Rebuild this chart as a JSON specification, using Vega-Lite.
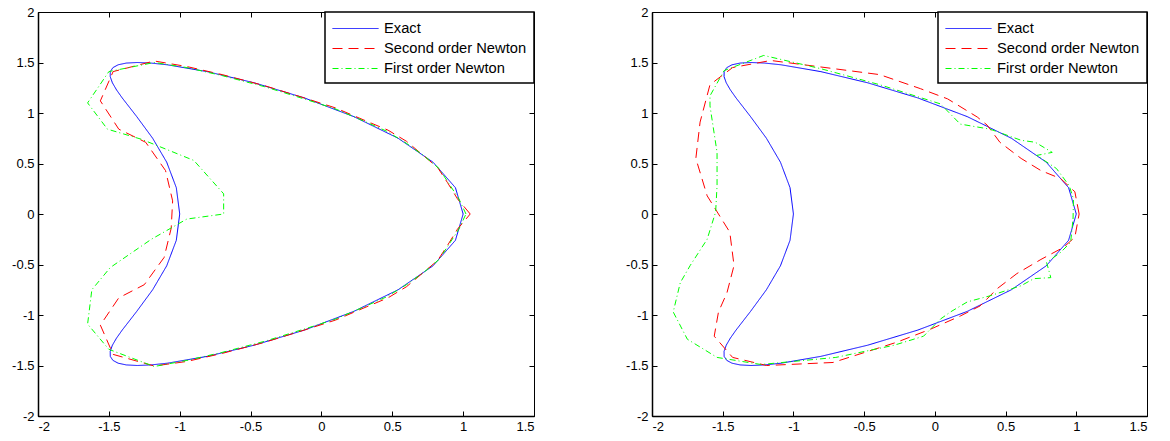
{
  "$schema": "https://vega.github.io/schema/vega-lite/v6.json",
  "background": "white",
  "padding": {"left": 11, "top": 5, "right": 5, "bottom": 5},
  "config": {
    "view": {"stroke": "black", "strokeWidth": 1},
    "concat": {"spacing": 89},
    "axis": {"grid": false, "domainColor": "black", "domainWidth": 1.5, "tickColor": "black", "labelColor": "black", "labelFont": "Liberation Sans", "labelFontSize": 13, "tickSize": -5, "labelPadding": 9, "title": null},
    "legend": {
      "orient": "top-right", "offset": 0, "title": null, "strokeColor": "black", "strokeWidth": 1.5, "fillColor": "white", "padding": 7,
      "symbolType": "M-1,0H4.11", "symbolSize": 324, "symbolStrokeWidth": 1, "symbolFillColor": "transparent",
      "labelFont": "Liberation Sans", "labelFontSize": 14.7, "labelColor": "black", "labelOffset": 33, "rowPadding": 3,
      "encode": {"symbols": {"stroke": {"condition": [{"test": "datum.value === 'Exact'", "value": "#0000ff"}, {"test": "datum.value === 'Second order Newton'", "value": "#ff0000"}], "value": "#00ff00"}}}
    }
  },
  "resolve": {"legend": {"color": "independent", "strokeDash": "independent"}, "scale": {"color": "independent", "strokeDash": "independent"}},
  "datasets": {
    "L": [
      {"s":"Exact","i":0,"x":1.0,"y":0},{"s":"Exact","i":1,"x":0.9456,"y":0.2605},{"s":"Exact","i":2,"x":0.7876,"y":0.513},{"s":"Exact","i":3,"x":0.541,"y":0.75},{"s":"Exact","i":4,"x":0.2289,"y":0.9642},{"s":"Exact","i":5,"x":-0.1201,"y":1.1491},{"s":"Exact","i":6,"x":-0.475,"y":1.299},{"s":"Exact","i":7,"x":-0.8059,"y":1.4095},{"s":"Exact","i":8,"x":-1.0872,"y":1.4772},{"s":"Exact","i":9,"x":-1.203,"y":1.4943},{"s":"Exact","i":10,"x":-1.3,"y":1.5},{"s":"Exact","i":11,"x":-1.3773,"y":1.4943},{"s":"Exact","i":12,"x":-1.4345,"y":1.4772},{"s":"Exact","i":13,"x":-1.4717,"y":1.4489},{"s":"Exact","i":14,"x":-1.49,"y":1.4095},{"s":"Exact","i":15,"x":-1.4904,"y":1.3595},{"s":"Exact","i":16,"x":-1.475,"y":1.299},{"s":"Exact","i":17,"x":-1.4459,"y":1.2287},{"s":"Exact","i":18,"x":-1.4057,"y":1.1491},{"s":"Exact","i":19,"x":-1.3032,"y":0.9642},{"s":"Exact","i":20,"x":-1.191,"y":0.75},{"s":"Exact","i":21,"x":-1.0918,"y":0.513},{"s":"Exact","i":22,"x":-1.024,"y":0.2605},{"s":"Exact","i":23,"x":-1.0,"y":0},{"s":"Exact","i":24,"x":-1.024,"y":-0.2605},{"s":"Exact","i":25,"x":-1.0918,"y":-0.513},{"s":"Exact","i":26,"x":-1.191,"y":-0.75},{"s":"Exact","i":27,"x":-1.3032,"y":-0.9642},{"s":"Exact","i":28,"x":-1.4057,"y":-1.1491},{"s":"Exact","i":29,"x":-1.4459,"y":-1.2287},{"s":"Exact","i":30,"x":-1.475,"y":-1.299},{"s":"Exact","i":31,"x":-1.4904,"y":-1.3595},{"s":"Exact","i":32,"x":-1.49,"y":-1.4095},{"s":"Exact","i":33,"x":-1.4717,"y":-1.4489},{"s":"Exact","i":34,"x":-1.4345,"y":-1.4772},{"s":"Exact","i":35,"x":-1.3773,"y":-1.4943},{"s":"Exact","i":36,"x":-1.3,"y":-1.5},{"s":"Exact","i":37,"x":-1.203,"y":-1.4943},{"s":"Exact","i":38,"x":-1.0872,"y":-1.4772},{"s":"Exact","i":39,"x":-0.8059,"y":-1.4095},{"s":"Exact","i":40,"x":-0.475,"y":-1.299},{"s":"Exact","i":41,"x":-0.1201,"y":-1.1491},{"s":"Exact","i":42,"x":0.2289,"y":-0.9642},{"s":"Exact","i":43,"x":0.541,"y":-0.75},{"s":"Exact","i":44,"x":0.7876,"y":-0.513},{"s":"Exact","i":45,"x":0.9456,"y":-0.2605},{"s":"Exact","i":46,"x":1.0,"y":0},
      {"s":"Second order Newton","i":0,"x":1.05,"y":0},{"s":"Second order Newton","i":1,"x":0.96,"y":0.15},{"s":"Second order Newton","i":2,"x":0.89,"y":0.31},{"s":"Second order Newton","i":3,"x":0.82,"y":0.46},{"s":"Second order Newton","i":4,"x":0.71,"y":0.59},{"s":"Second order Newton","i":5,"x":0.6,"y":0.72},{"s":"Second order Newton","i":6,"x":0.47,"y":0.83},{"s":"Second order Newton","i":7,"x":0.3,"y":0.93},{"s":"Second order Newton","i":8,"x":0.1,"y":1.05},{"s":"Second order Newton","i":9,"x":-0.1,"y":1.14},{"s":"Second order Newton","i":10,"x":-0.4,"y":1.27},{"s":"Second order Newton","i":11,"x":-0.7,"y":1.38},{"s":"Second order Newton","i":12,"x":-0.95,"y":1.46},{"s":"Second order Newton","i":13,"x":-1.18,"y":1.515},{"s":"Second order Newton","i":14,"x":-1.47,"y":1.41},{"s":"Second order Newton","i":15,"x":-1.56,"y":1.12},{"s":"Second order Newton","i":16,"x":-1.43,"y":0.84},{"s":"Second order Newton","i":17,"x":-1.24,"y":0.71},{"s":"Second order Newton","i":18,"x":-1.1,"y":0.43},{"s":"Second order Newton","i":19,"x":-1.05,"y":0.13},{"s":"Second order Newton","i":20,"x":-1.06,"y":-0.14},{"s":"Second order Newton","i":21,"x":-1.11,"y":-0.43},{"s":"Second order Newton","i":22,"x":-1.25,"y":-0.7},{"s":"Second order Newton","i":23,"x":-1.43,"y":-0.83},{"s":"Second order Newton","i":24,"x":-1.56,"y":-1.1},{"s":"Second order Newton","i":25,"x":-1.47,"y":-1.39},{"s":"Second order Newton","i":26,"x":-1.18,"y":-1.505},{"s":"Second order Newton","i":27,"x":-0.95,"y":-1.46},{"s":"Second order Newton","i":28,"x":-0.7,"y":-1.38},{"s":"Second order Newton","i":29,"x":-0.4,"y":-1.27},{"s":"Second order Newton","i":30,"x":-0.1,"y":-1.14},{"s":"Second order Newton","i":31,"x":0.1,"y":-1.05},{"s":"Second order Newton","i":32,"x":0.3,"y":-0.93},{"s":"Second order Newton","i":33,"x":0.47,"y":-0.83},{"s":"Second order Newton","i":34,"x":0.6,"y":-0.72},{"s":"Second order Newton","i":35,"x":0.71,"y":-0.59},{"s":"Second order Newton","i":36,"x":0.82,"y":-0.46},{"s":"Second order Newton","i":37,"x":0.89,"y":-0.31},{"s":"Second order Newton","i":38,"x":0.96,"y":-0.15},{"s":"Second order Newton","i":39,"x":1.05,"y":0},
      {"s":"First order Newton","i":0,"x":1.02,"y":0},{"s":"First order Newton","i":1,"x":0.97,"y":0.15},{"s":"First order Newton","i":2,"x":0.9,"y":0.3},{"s":"First order Newton","i":3,"x":0.83,"y":0.45},{"s":"First order Newton","i":4,"x":0.72,"y":0.58},{"s":"First order Newton","i":5,"x":0.6,"y":0.7},{"s":"First order Newton","i":6,"x":0.46,"y":0.82},{"s":"First order Newton","i":7,"x":0.3,"y":0.92},{"s":"First order Newton","i":8,"x":0.1,"y":1.04},{"s":"First order Newton","i":9,"x":-0.1,"y":1.13},{"s":"First order Newton","i":10,"x":-0.4,"y":1.26},{"s":"First order Newton","i":11,"x":-0.7,"y":1.37},{"s":"First order Newton","i":12,"x":-0.95,"y":1.45},{"s":"First order Newton","i":13,"x":-1.18,"y":1.5},{"s":"First order Newton","i":14,"x":-1.5,"y":1.41},{"s":"First order Newton","i":15,"x":-1.65,"y":1.1},{"s":"First order Newton","i":16,"x":-1.51,"y":0.84},{"s":"First order Newton","i":17,"x":-1.27,"y":0.74},{"s":"First order Newton","i":18,"x":-0.9,"y":0.53},{"s":"First order Newton","i":19,"x":-0.69,"y":0.2},{"s":"First order Newton","i":20,"x":-0.69,"y":0.0},{"s":"First order Newton","i":21,"x":-0.95,"y":-0.05},{"s":"First order Newton","i":22,"x":-1.2,"y":-0.25},{"s":"First order Newton","i":23,"x":-1.49,"y":-0.53},{"s":"First order Newton","i":24,"x":-1.62,"y":-0.75},{"s":"First order Newton","i":25,"x":-1.65,"y":-1.09},{"s":"First order Newton","i":26,"x":-1.5,"y":-1.34},{"s":"First order Newton","i":27,"x":-1.18,"y":-1.51},{"s":"First order Newton","i":28,"x":-0.95,"y":-1.45},{"s":"First order Newton","i":29,"x":-0.7,"y":-1.37},{"s":"First order Newton","i":30,"x":-0.4,"y":-1.26},{"s":"First order Newton","i":31,"x":-0.1,"y":-1.13},{"s":"First order Newton","i":32,"x":0.1,"y":-1.04},{"s":"First order Newton","i":33,"x":0.3,"y":-0.92},{"s":"First order Newton","i":34,"x":0.46,"y":-0.82},{"s":"First order Newton","i":35,"x":0.6,"y":-0.7},{"s":"First order Newton","i":36,"x":0.72,"y":-0.58},{"s":"First order Newton","i":37,"x":0.83,"y":-0.45},{"s":"First order Newton","i":38,"x":0.9,"y":-0.3},{"s":"First order Newton","i":39,"x":0.97,"y":-0.15},{"s":"First order Newton","i":40,"x":1.02,"y":0}
    ],
    "R": [
      {"s":"Exact","i":0,"x":1.0,"y":0},{"s":"Exact","i":1,"x":0.9456,"y":0.2605},{"s":"Exact","i":2,"x":0.7876,"y":0.513},{"s":"Exact","i":3,"x":0.541,"y":0.75},{"s":"Exact","i":4,"x":0.2289,"y":0.9642},{"s":"Exact","i":5,"x":-0.1201,"y":1.1491},{"s":"Exact","i":6,"x":-0.475,"y":1.299},{"s":"Exact","i":7,"x":-0.8059,"y":1.4095},{"s":"Exact","i":8,"x":-1.0872,"y":1.4772},{"s":"Exact","i":9,"x":-1.203,"y":1.4943},{"s":"Exact","i":10,"x":-1.3,"y":1.5},{"s":"Exact","i":11,"x":-1.3773,"y":1.4943},{"s":"Exact","i":12,"x":-1.4345,"y":1.4772},{"s":"Exact","i":13,"x":-1.4717,"y":1.4489},{"s":"Exact","i":14,"x":-1.49,"y":1.4095},{"s":"Exact","i":15,"x":-1.4904,"y":1.3595},{"s":"Exact","i":16,"x":-1.475,"y":1.299},{"s":"Exact","i":17,"x":-1.4459,"y":1.2287},{"s":"Exact","i":18,"x":-1.4057,"y":1.1491},{"s":"Exact","i":19,"x":-1.3032,"y":0.9642},{"s":"Exact","i":20,"x":-1.191,"y":0.75},{"s":"Exact","i":21,"x":-1.0918,"y":0.513},{"s":"Exact","i":22,"x":-1.024,"y":0.2605},{"s":"Exact","i":23,"x":-1.0,"y":0},{"s":"Exact","i":24,"x":-1.024,"y":-0.2605},{"s":"Exact","i":25,"x":-1.0918,"y":-0.513},{"s":"Exact","i":26,"x":-1.191,"y":-0.75},{"s":"Exact","i":27,"x":-1.3032,"y":-0.9642},{"s":"Exact","i":28,"x":-1.4057,"y":-1.1491},{"s":"Exact","i":29,"x":-1.4459,"y":-1.2287},{"s":"Exact","i":30,"x":-1.475,"y":-1.299},{"s":"Exact","i":31,"x":-1.4904,"y":-1.3595},{"s":"Exact","i":32,"x":-1.49,"y":-1.4095},{"s":"Exact","i":33,"x":-1.4717,"y":-1.4489},{"s":"Exact","i":34,"x":-1.4345,"y":-1.4772},{"s":"Exact","i":35,"x":-1.3773,"y":-1.4943},{"s":"Exact","i":36,"x":-1.3,"y":-1.5},{"s":"Exact","i":37,"x":-1.203,"y":-1.4943},{"s":"Exact","i":38,"x":-1.0872,"y":-1.4772},{"s":"Exact","i":39,"x":-0.8059,"y":-1.4095},{"s":"Exact","i":40,"x":-0.475,"y":-1.299},{"s":"Exact","i":41,"x":-0.1201,"y":-1.1491},{"s":"Exact","i":42,"x":0.2289,"y":-0.9642},{"s":"Exact","i":43,"x":0.541,"y":-0.75},{"s":"Exact","i":44,"x":0.7876,"y":-0.513},{"s":"Exact","i":45,"x":0.9456,"y":-0.2605},{"s":"Exact","i":46,"x":1.0,"y":0},
      {"s":"Second order Newton","i":0,"x":1.02,"y":0},{"s":"Second order Newton","i":1,"x":0.99,"y":0.22},{"s":"Second order Newton","i":2,"x":0.89,"y":0.35},{"s":"Second order Newton","i":3,"x":0.75,"y":0.43},{"s":"Second order Newton","i":4,"x":0.61,"y":0.55},{"s":"Second order Newton","i":5,"x":0.46,"y":0.71},{"s":"Second order Newton","i":6,"x":0.37,"y":0.88},{"s":"Second order Newton","i":7,"x":0.3,"y":0.96},{"s":"Second order Newton","i":8,"x":0.09,"y":1.14},{"s":"Second order Newton","i":9,"x":-0.1,"y":1.24},{"s":"Second order Newton","i":10,"x":-0.39,"y":1.38},{"s":"Second order Newton","i":11,"x":-0.72,"y":1.44},{"s":"Second order Newton","i":12,"x":-1.16,"y":1.52},{"s":"Second order Newton","i":13,"x":-1.43,"y":1.45},{"s":"Second order Newton","i":14,"x":-1.59,"y":1.28},{"s":"Second order Newton","i":15,"x":-1.66,"y":0.91},{"s":"Second order Newton","i":16,"x":-1.69,"y":0.55},{"s":"Second order Newton","i":17,"x":-1.61,"y":0.18},{"s":"Second order Newton","i":18,"x":-1.45,"y":-0.18},{"s":"Second order Newton","i":19,"x":-1.42,"y":-0.51},{"s":"Second order Newton","i":20,"x":-1.47,"y":-0.78},{"s":"Second order Newton","i":21,"x":-1.53,"y":-0.97},{"s":"Second order Newton","i":22,"x":-1.56,"y":-1.21},{"s":"Second order Newton","i":23,"x":-1.43,"y":-1.42},{"s":"Second order Newton","i":24,"x":-1.19,"y":-1.5},{"s":"Second order Newton","i":25,"x":-0.72,"y":-1.47},{"s":"Second order Newton","i":26,"x":-0.27,"y":-1.27},{"s":"Second order Newton","i":27,"x":-0.03,"y":-1.14},{"s":"Second order Newton","i":28,"x":0.18,"y":-1.01},{"s":"Second order Newton","i":29,"x":0.32,"y":-0.91},{"s":"Second order Newton","i":30,"x":0.44,"y":-0.74},{"s":"Second order Newton","i":31,"x":0.58,"y":-0.59},{"s":"Second order Newton","i":32,"x":0.75,"y":-0.45},{"s":"Second order Newton","i":33,"x":0.91,"y":-0.33},{"s":"Second order Newton","i":34,"x":0.99,"y":-0.23},{"s":"Second order Newton","i":35,"x":1.02,"y":0},
      {"s":"First order Newton","i":0,"x":0.977,"y":-0.05},{"s":"First order Newton","i":1,"x":0.98,"y":0.15},{"s":"First order Newton","i":2,"x":0.95,"y":0.28},{"s":"First order Newton","i":3,"x":0.86,"y":0.45},{"s":"First order Newton","i":4,"x":0.72,"y":0.58},{"s":"First order Newton","i":5,"x":0.83,"y":0.61},{"s":"First order Newton","i":6,"x":0.71,"y":0.71},{"s":"First order Newton","i":7,"x":0.61,"y":0.73},{"s":"First order Newton","i":8,"x":0.39,"y":0.84},{"s":"First order Newton","i":9,"x":0.18,"y":0.89},{"s":"First order Newton","i":10,"x":0.11,"y":0.99},{"s":"First order Newton","i":11,"x":0.04,"y":1.09},{"s":"First order Newton","i":12,"x":-0.39,"y":1.28},{"s":"First order Newton","i":13,"x":-0.81,"y":1.44},{"s":"First order Newton","i":14,"x":-1.21,"y":1.57},{"s":"First order Newton","i":15,"x":-1.49,"y":1.42},{"s":"First order Newton","i":16,"x":-1.59,"y":1.17},{"s":"First order Newton","i":17,"x":-1.59,"y":1.07},{"s":"First order Newton","i":18,"x":-1.54,"y":0.61},{"s":"First order Newton","i":19,"x":-1.54,"y":0.28},{"s":"First order Newton","i":20,"x":-1.55,"y":0.02},{"s":"First order Newton","i":21,"x":-1.61,"y":-0.25},{"s":"First order Newton","i":22,"x":-1.73,"y":-0.51},{"s":"First order Newton","i":23,"x":-1.8,"y":-0.68},{"s":"First order Newton","i":24,"x":-1.85,"y":-0.97},{"s":"First order Newton","i":25,"x":-1.75,"y":-1.24},{"s":"First order Newton","i":26,"x":-1.54,"y":-1.42},{"s":"First order Newton","i":27,"x":-1.23,"y":-1.49},{"s":"First order Newton","i":28,"x":-0.7,"y":-1.42},{"s":"First order Newton","i":29,"x":-0.29,"y":-1.3},{"s":"First order Newton","i":30,"x":-0.08,"y":-1.21},{"s":"First order Newton","i":31,"x":0.04,"y":-1.04},{"s":"First order Newton","i":32,"x":0.11,"y":-0.97},{"s":"First order Newton","i":33,"x":0.23,"y":-0.87},{"s":"First order Newton","i":34,"x":0.39,"y":-0.81},{"s":"First order Newton","i":35,"x":0.61,"y":-0.71},{"s":"First order Newton","i":36,"x":0.7,"y":-0.64},{"s":"First order Newton","i":37,"x":0.82,"y":-0.63},{"s":"First order Newton","i":38,"x":0.79,"y":-0.48},{"s":"First order Newton","i":39,"x":0.89,"y":-0.38},{"s":"First order Newton","i":40,"x":0.96,"y":-0.28},{"s":"First order Newton","i":41,"x":0.977,"y":-0.05}
    ]
  },
  "hconcat": [
    {
      "width": 496, "height": 404,
      "data": {"name": "L"},
      "resolve": {"axis": {"x": "independent", "y": "independent"}},
      "layer": [
        {
          "mark": {"type": "line", "strokeWidth": 1},
          "encoding": {
            "x": {"field": "x", "type": "quantitative", "scale": {"domain": [-2, 1.5], "nice": false, "zero": false}, "axis": {"orient": "bottom", "values": [-2, -1.5, -1, -0.5, 0, 0.5, 1, 1.5], "labelExpr": "'' + datum.value"}},
            "y": {"field": "y", "type": "quantitative", "scale": {"domain": [-2, 2], "nice": false, "zero": false}, "axis": {"orient": "left", "values": [-2, -1.5, -1, -0.5, 0, 0.5, 1, 1.5, 2], "labelExpr": "'' + datum.value"}},
            "color": {"field": "s", "type": "nominal", "scale": {"domain": ["Exact", "Second order Newton", "First order Newton"], "range": ["#0000ff", "#ff0000", "#00ff00"]}},
            "strokeDash": {"field": "s", "type": "nominal", "scale": {"domain": ["Exact", "Second order Newton", "First order Newton"], "range": [[1, 0], [10, 6], [6, 3, 1, 3]]}},
            "order": {"field": "i", "type": "quantitative"}
          }
        },
        {
          "mark": {"type": "point", "opacity": 0},
          "encoding": {
            "x": {"field": "x", "type": "quantitative", "axis": {"orient": "top", "values": [-2, -1.5, -1, -0.5, 0, 0.5, 1, 1.5], "labels": false, "domain": false}},
            "y": {"field": "y", "type": "quantitative", "axis": {"orient": "right", "values": [-2, -1.5, -1, -0.5, 0, 0.5, 1, 1.5, 2], "labels": false, "domain": false}}
          }
        }
      ]
    },
    {
      "width": 495, "height": 404,
      "data": {"name": "R"},
      "resolve": {"axis": {"x": "independent", "y": "independent"}},
      "layer": [
        {
          "mark": {"type": "line", "strokeWidth": 1},
          "encoding": {
            "x": {"field": "x", "type": "quantitative", "scale": {"domain": [-2, 1.5], "nice": false, "zero": false}, "axis": {"orient": "bottom", "values": [-2, -1.5, -1, -0.5, 0, 0.5, 1, 1.5], "labelExpr": "'' + datum.value"}},
            "y": {"field": "y", "type": "quantitative", "scale": {"domain": [-2, 2], "nice": false, "zero": false}, "axis": {"orient": "left", "values": [-2, -1.5, -1, -0.5, 0, 0.5, 1, 1.5, 2], "labelExpr": "'' + datum.value"}},
            "color": {"field": "s", "type": "nominal", "scale": {"domain": ["Exact", "Second order Newton", "First order Newton"], "range": ["#0000ff", "#ff0000", "#00ff00"]}},
            "strokeDash": {"field": "s", "type": "nominal", "scale": {"domain": ["Exact", "Second order Newton", "First order Newton"], "range": [[1, 0], [10, 6], [6, 3, 1, 3]]}},
            "order": {"field": "i", "type": "quantitative"}
          }
        },
        {
          "mark": {"type": "point", "opacity": 0},
          "encoding": {
            "x": {"field": "x", "type": "quantitative", "axis": {"orient": "top", "values": [-2, -1.5, -1, -0.5, 0, 0.5, 1, 1.5], "labels": false, "domain": false}},
            "y": {"field": "y", "type": "quantitative", "axis": {"orient": "right", "values": [-2, -1.5, -1, -0.5, 0, 0.5, 1, 1.5, 2], "labels": false, "domain": false}}
          }
        }
      ]
    }
  ]
}
